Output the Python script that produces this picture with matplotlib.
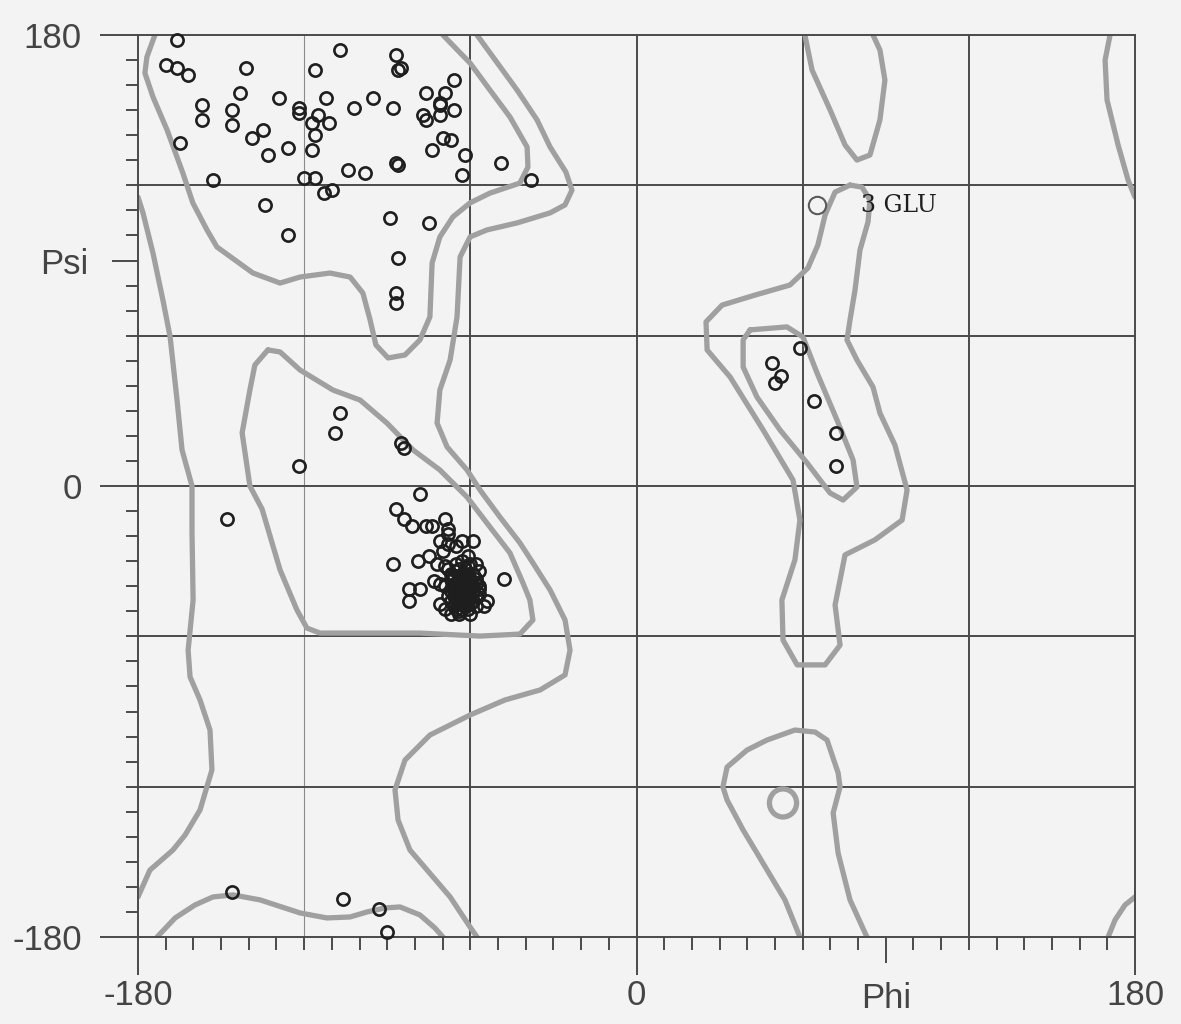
import matplotlib.pyplot as plt
from matplotlib.patches import Ellipse
import numpy as np

# residues (phi, psi)
beta_pts = [(-166, 178), (-170, 168), (-166, 167), (-162, 164), (-141, 167), (-143, 157),
            (-157, 152), (-157, 146), (-146, 150), (-146, 144), (-139, 139), (-135, 142),
            (-133, 132), (-126, 135), (-165, 137), (-153, 122), (-129, 155), (-122, 151),
            (-122, 149), (-116, 166), (-107, 174), (-112, 155), (-115, 148), (-117, 145),
            (-111, 145), (-116, 140), (-117, 134), (-120, 123), (-116, 123), (-113, 117),
            (-110, 118), (-134, 112), (-126, 100), (-87, 172), (-86, 166), (-85, 167),
            (-66, 162), (-76, 157), (-69, 157), (-71, 153), (-71, 152), (-95, 155),
            (-102, 151), (-88, 151), (-77, 148), (-76, 146), (-71, 148), (-66, 150),
            (-70, 139), (-67, 138), (-74, 134), (-62, 132), (-49, 129), (-87, 129),
            (-86, 128), (-104, 126), (-98, 125), (-63, 124), (-38, 122), (-89, 107),
            (-75, 105), (-86, 91), (-87, 77), (-87, 73)]

alpha_pts = [(-107, 29), (-109, 21), (-122, 8), (-148, -13), (-85, 17), (-84, 15),
             (-78, -3), (-87, -9), (-84, -13), (-81, -16), (-76, -16), (-74, -16),
             (-69, -13), (-68, -17), (-68, -19), (-71, -22), (-63, -22), (-59, -22),
             (-68, -23), (-70, -26), (-65, -24), (-88, -31), (-79, -30), (-75, -28),
             (-72, -31), (-69, -32), (-48, -37), (-82, -41), (-78, -41), (-82, -46),
             (-73, -38), (-71, -39), (-71, -47), (-69, -49), (-64, -50), (-60, -51),
             (-55, -48), (-54, -46), (-57, -40), (-57, -34), (-60, -31)]

helix_core = [(-68, -33), (-65, -34), (-62, -33), (-59, -35), (-67, -37), (-64, -38),
              (-61, -37), (-58, -39), (-66, -41), (-63, -42), (-60, -41), (-57, -43),
              (-68, -44), (-65, -45), (-62, -44), (-59, -46), (-66, -48), (-63, -47),
              (-61, -49), (-64, -36), (-62, -40), (-60, -44), (-66, -44), (-63, -30),
              (-61, -28), (-69, -40), (-58, -31), (-64, -51), (-67, -51), (-60, -38),
              (-65, -40), (-62, -46), (-63, -44), (-61, -42), (-64, -43), (-59, -42),
              (-67, -35), (-64, -33), (-61, -35), (-58, -37), (-66, -39), (-63, -40),
              (-60, -39), (-57, -41), (-67, -42), (-64, -41), (-61, -44), (-58, -44),
              (-67, -46), (-64, -46), (-61, -46), (-58, -48), (-65, -49), (-62, -48),
              (-60, -47), (-63, -36), (-62, -38), (-65, -43), (-59, -40), (-66, -36),
              (-63, -49), (-61, -32), (-65, -31)]

bottom_pts = [(-146, -162), (-106, -165), (-93, -169), (-90, -178)]

left_hand_pts = [(59, 55), (49, 49), (52, 44), (50, 41), (64, 34), (72, 21), (72, 8)]

outlier = (65, 112)
outlier_label = "3 GLU"

# contour lines (phi, psi)
beta_inner_top = [(-173.9, 180), (-176.8, 171.2), (-177.5, 164.8), (-174.6, 155.3), (-169.5, 142.1),
                  (-163.8, 124.9), (-160.2, 113), (-155.1, 102.2), (-151.5, 95.4), (-138.5, 85),
                  (-128.7, 81), (-121.5, 83.4), (-110.7, 85), (-103.4, 83.4), (-98.8, 77),
                  (-96.2, 66.3), (-94.1, 56.3), (-89.7, 51.1), (-83.6, 52.3), (-78.2, 58.3),
                  (-74.6, 67.5), (-73.8, 89), (-71, 99.4), (-66.3, 107.4), (-60.1, 113),
                  (-52.9, 116.9), (-42.1, 120.9), (-39.2, 127.3), (-39.5, 135.3), (-45.7, 147.3),
                  (-52.9, 158), (-60.1, 168.8), (-69.9, 180)]
beta_inner_bottom = [(-173.1, -180), (-166.6, -172.4), (-159.4, -167.2), (-152.9, -164), (-145.7, -163.2),
                     (-135.9, -165.2), (-121.5, -170.4), (-111.8, -172.4), (-103.4, -172), (-97.3, -170),
                     (-90.8, -168.4), (-85.4, -168), (-78.2, -171.2), (-72.8, -176.4), (-69.9, -180)]
outer_left = [(-180, 115.3), (-178.2, 109), (-174.6, 93), (-171, 74.2), (-168.4, 59.5), (-165.9, 34.3),
              (-164.1, 14.4), (-160.5, 0), (-160.5, -18.4), (-160.1, -45.5), (-161.9, -65.5),
              (-161.2, -76.2), (-157.6, -85.4), (-154, -97.4), (-153.3, -113.3), (-157.6, -129.3),
              (-163, -139.3), (-167.4, -145.3), (-175.7, -153.3), (-180, -164)]
outer_right = [(-57.6, 180), (-51.8, 171.2), (-43.1, 158), (-35.9, 146.1), (-31.2, 135.3), (-25.5, 125.3),
               (-23.3, 118.1), (-25.8, 112.2), (-31.2, 109), (-43.1, 105), (-54, 102.2), (-60.1, 99.4),
               (-63.7, 91.4), (-64.8, 67.5), (-67.3, 50.3), (-71, 38.3), (-72, 25.1), (-68.4, 15.6),
               (-61.2, 6.4), (-56.5, -1.6), (-49.3, -12.4), (-42.1, -22.7), (-37.4, -30.7),
               (-31.2, -41.5), (-25.8, -53.5), (-24, -65.5), (-25.8, -75.4), (-34.8, -81.4),
               (-47.5, -85.4), (-60.1, -91.4), (-74.6, -99.4), (-83.6, -109.4), (-87.2, -121.3),
               (-86.1, -133.3), (-81.8, -145.3), (-73.5, -156), (-67.3, -164), (-60.1, -176),
               (-57.6, -180)]
alpha_inner = [(-133.1, 54.3), (-137.8, 48.3), (-139.6, 38.3), (-142.4, 21.2), (-139.6, 0),
               (-135.2, -9.2), (-128.7, -33.5), (-122.6, -49.5), (-119, -56.7), (-114.3, -58.7),
               (-99.8, -58.7), (-78.2, -58.7), (-56.5, -59.9), (-42.1, -59.1), (-37.4, -53.5),
               (-38.5, -45.5), (-41, -38.7), (-45.7, -26.7), (-54, -14.8), (-61.2, -4.4),
               (-71, 6.4), (-80.7, 14.4), (-90.1, 25.1), (-99.8, 34.3), (-109.6, 38.3),
               (-121.5, 46.3), (-128.7, 53.5), (-133.1, 54.3)]
lh_outer = [(77.1, 120.1), (71.7, 117.3), (68.1, 108.2), (65.5, 96.2), (61.9, 87), (55.4, 80.2),
            (42.8, 76.2), (30.9, 72.2), (25.1, 65.5), (25.5, 54.3), (33.8, 43.5), (45.7, 22.4),
            (56.5, 2.4), (59, -13.6), (57.2, -29.5), (52.5, -45.5), (52.9, -61.5), (58, -71.4),
            (68.1, -71.4), (73.5, -63.5), (71.7, -47.5), (75.3, -27.5), (86.1, -21.5),
            (95.9, -13.6), (97.7, -1.6), (93.3, 16.4), (87.9, 29.1), (85.4, 39.5), (79.6, 50.3),
            (76, 58.3), (77.1, 66.3), (78.9, 78.2), (80.7, 94.2), (83.6, 105.4), (84.3, 114.2),
            (81.4, 119.3), (77.1, 120.1)]
lh_inner = [(41, 62.3), (54.3, 63.5), (60.1, 59.5), (65.2, 45.1), (72.4, 26.3), (78.2, 10.4),
            (79.6, -0.4), (74.6, -5.6), (69.9, -2.8), (61.6, 9.2), (51.8, 22.4), (43.5, 35.5),
            (38.5, 47.5), (38.5, 58.3), (41, 62.3)]
top_right_loop = [(60.8, 180), (63.4, 166), (69.9, 150.1), (75.3, 136.1), (79.6, 130.1), (84.3, 132.1),
                  (87.9, 146.1), (89.7, 162), (87.9, 174), (85.4, 180)]
bottom_right_loop = [(59, -180), (53.6, -165.2), (43.5, -146.5), (38.5, -137.3), (32.7, -125.3),
                     (31.2, -120.1), (32.7, -112.2), (39.9, -105.4), (47.1, -101.4), (57.2, -97.4),
                     (64.5, -98.2), (68.8, -101.4), (72.8, -114.5), (73.5, -120.1), (71, -130.5),
                     (72.8, -146.5), (77.1, -165.2), (83.2, -180)]
edge_top_right = [(171, 180), (169.2, 170), (169.9, 154.1), (173.9, 136.1), (177.5, 122.1), (180, 115.3)]
edge_bottom_right = [(170.3, -180), (172.8, -173.2), (176.4, -167.2), (180, -164)]
small_ring = (52.9, -126.5, 9.8, 11.2)  # centre phi, psi, width, height

contours = [beta_inner_top, beta_inner_bottom, outer_left, outer_right, alpha_inner,
            lh_outer, lh_inner, top_right_loop, bottom_right_loop, edge_top_right, edge_bottom_right]

grid_pos = [-120, -60, 0, 60, 120]

bg = '#f3f3f3'
line_col = '#4a4a4a'
contour_col = '#a0a0a0'
txt_col = '#444444'

fig = plt.figure(figsize=(11.81, 10.24), dpi=100, facecolor=bg)
ax = fig.add_axes([138 / 1181, 1 - 937 / 1024, 997 / 1181, 902 / 1024])
ax.set_facecolor(bg)
ax.set_xlim(-180, 180)
ax.set_ylim(-180, 180)

for g in grid_pos:
    if g == -120:
        ax.axvline(g, color='#8a8a8a', lw=0.8, zorder=1)
    else:
        ax.axvline(g, color=line_col, lw=1.4, zorder=1)
    ax.axhline(g, color=line_col, lw=1.4, zorder=1)

for c in contours:
    arr = np.array(c)
    ax.plot(arr[:, 0], arr[:, 1], color=contour_col, lw=3.8, solid_capstyle='round',
            solid_joinstyle='round', zorder=2)
ax.add_patch(Ellipse(small_ring[:2], small_ring[2], small_ring[3], fill=False,
                     ec=contour_col, lw=3.8, zorder=2))

all_pts = np.array(beta_pts + alpha_pts + helix_core + bottom_pts + left_hand_pts)
ax.plot(all_pts[:, 0], all_pts[:, 1], 'o', mfc='none', mec='#1e1e1e', ms=8.8, mew=1.9,
        zorder=3, clip_on=False)
ax.plot(outlier[0], outlier[1], 'o', mfc='none', mec='#5a5a5a', ms=12.5, mew=1.5, zorder=3)
ax.text(outlier[0] + 16, outlier[1], outlier_label, family='DejaVu Serif', fontsize=17,
        color='#1e1e1e', va='center', ha='left', zorder=4)

for s in ax.spines.values():
    s.set_color(line_col)
    s.set_linewidth(1.4)

ax.set_xticks([-180, 0, 90, 180])
ax.set_xticklabels(['-180', '0', 'Phi', '180'])
ax.set_yticks([-180, 0, 90, 180])
ax.set_yticklabels(['-180', '0', 'Psi', '180'])
ax.set_xticks(np.arange(-170, 180, 10), minor=True)
ax.set_yticks(np.arange(-170, 180, 10), minor=True)
ax.tick_params(which='major', length=27.5, width=1.4, color=line_col, labelsize=25,
               labelcolor=txt_col, direction='out')
ax.tick_params(axis='x', which='major', pad=3)
ax.tick_params(axis='y', which='major', pad=13)
ax.tick_params(which='minor', length=9, width=1.4, color=line_col, direction='out')
for lab in ax.get_xticklabels() + ax.get_yticklabels():
    lab.set_family('Liberation Sans')

# the axis-name ticks are shorter than the range ticks
ax.xaxis.get_major_ticks()[2]._apply_params(size=18.5, pad=14)
ax.yaxis.get_major_ticks()[2]._apply_params(size=18.5, pad=17)

fig.savefig('out.png', dpi=100, facecolor=bg)
